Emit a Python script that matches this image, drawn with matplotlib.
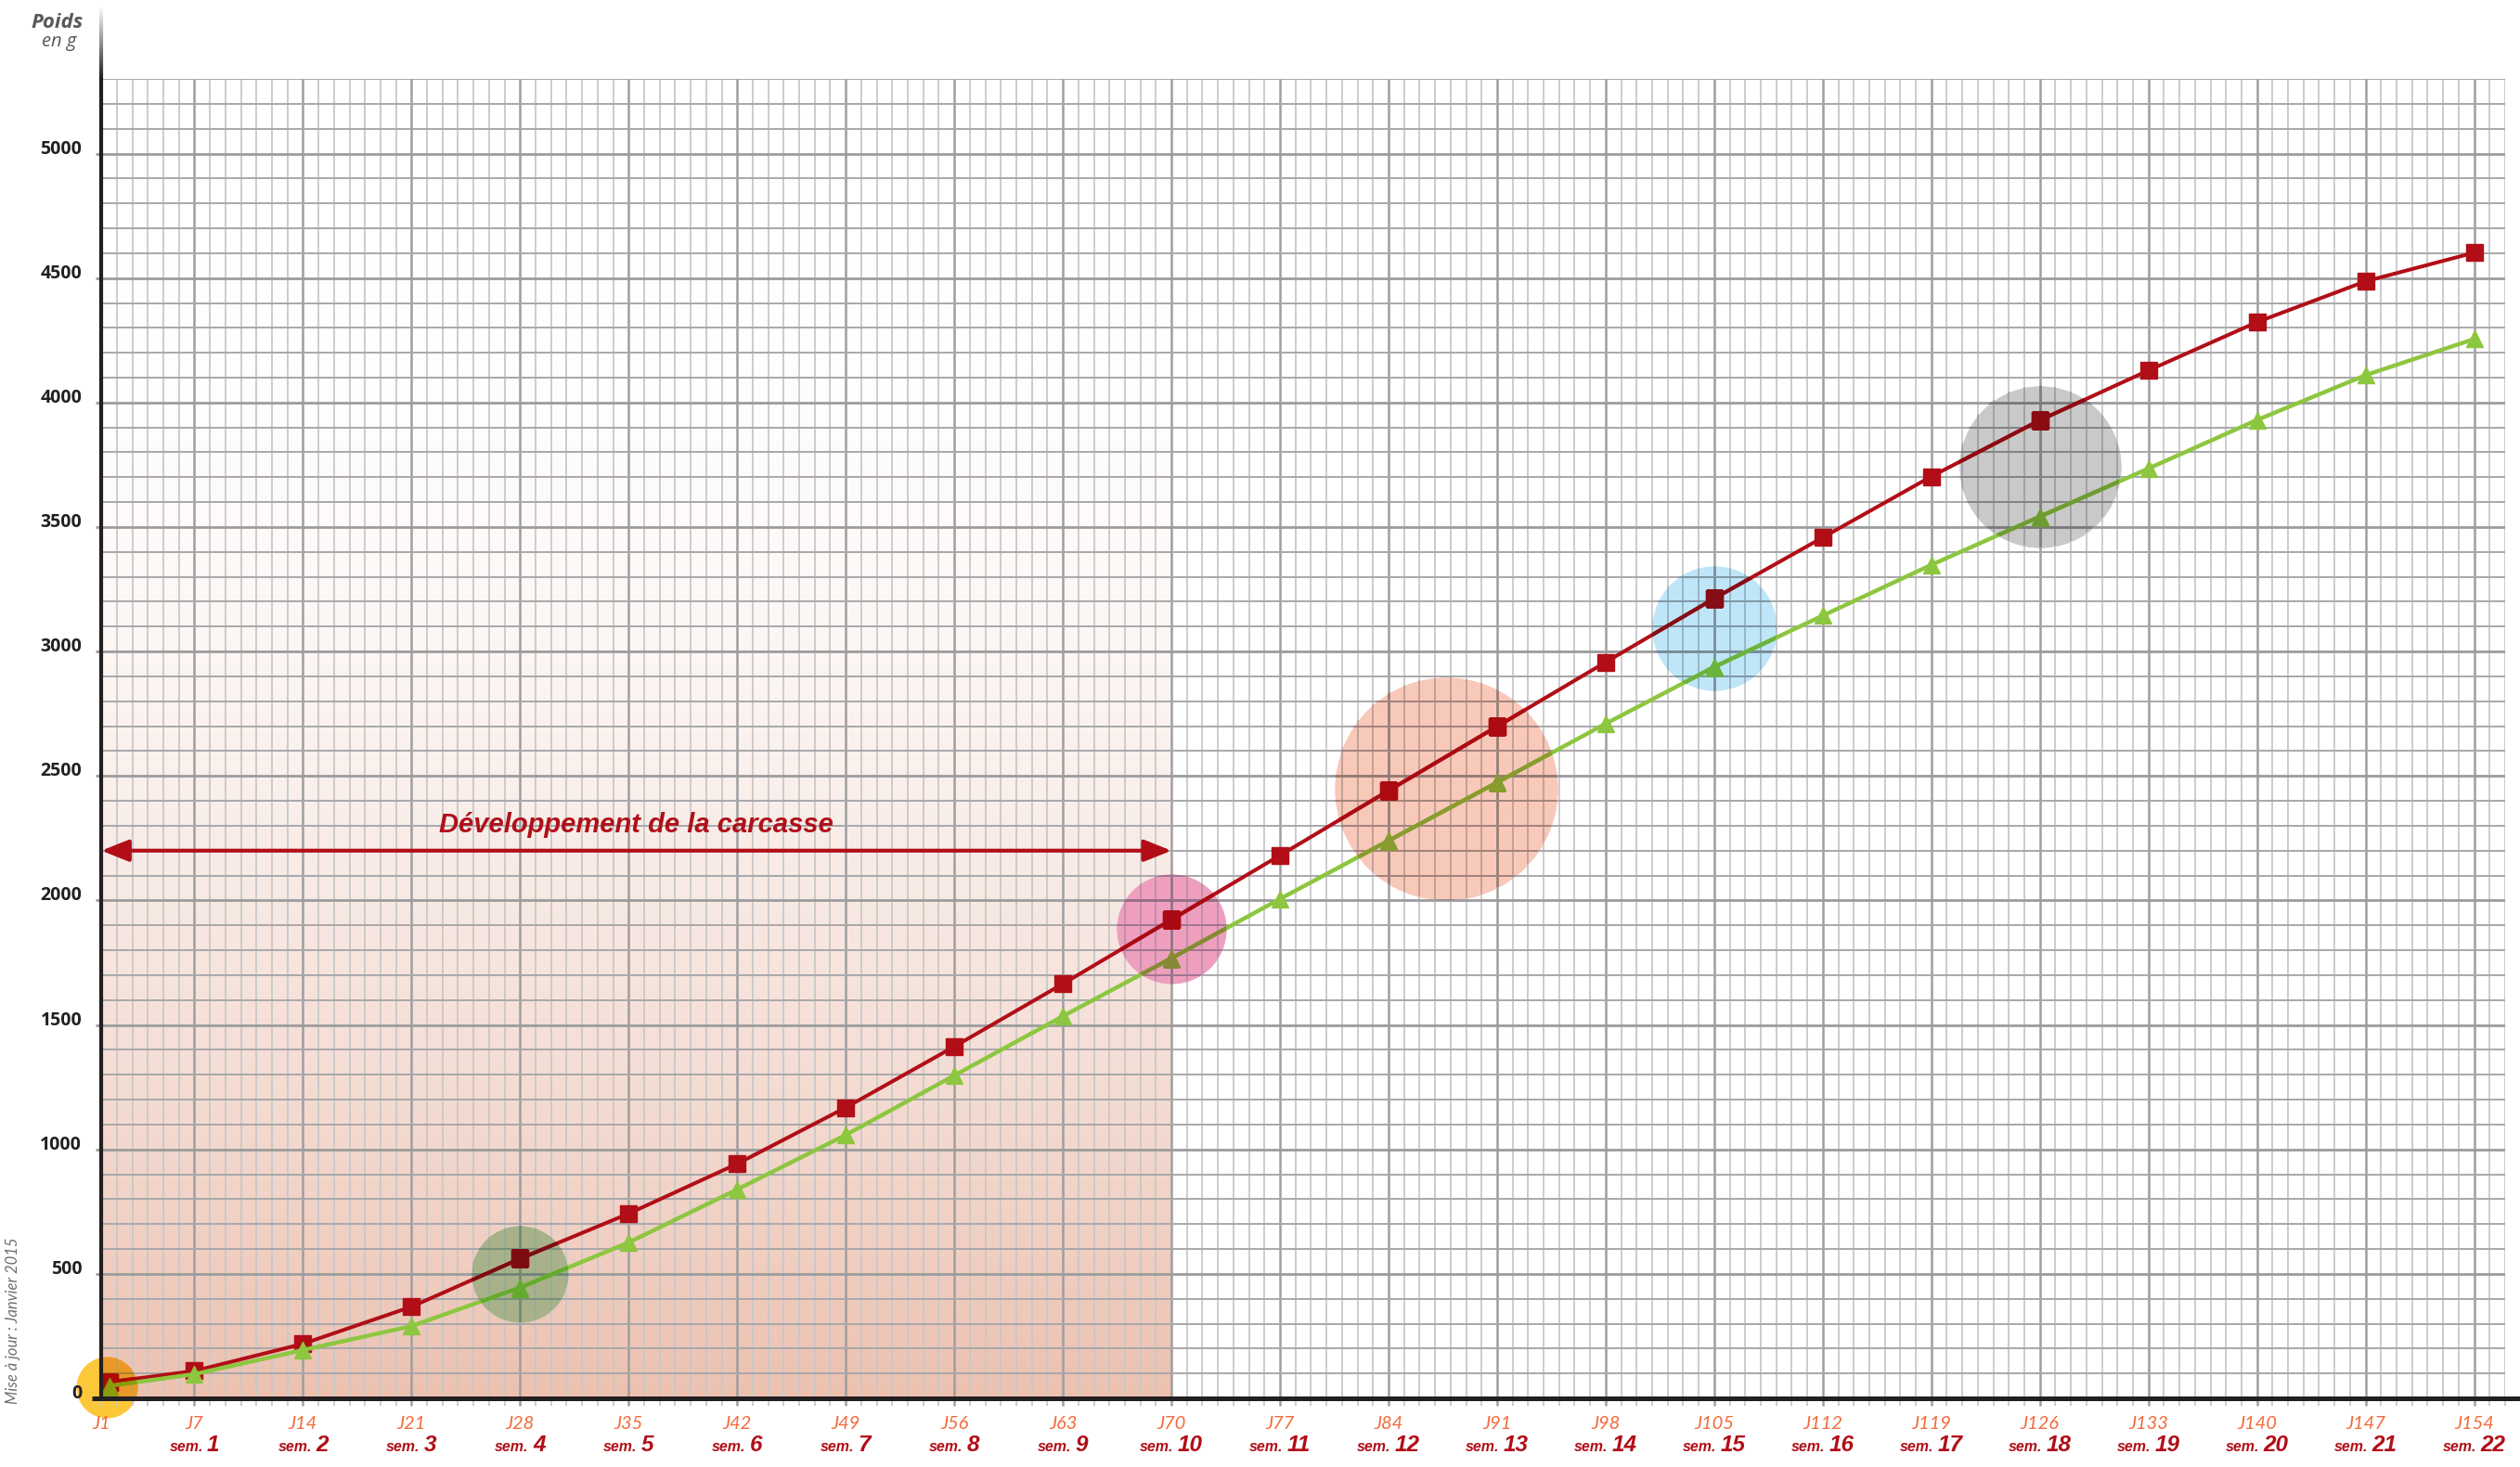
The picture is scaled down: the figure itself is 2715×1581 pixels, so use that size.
import numpy as np
import matplotlib
matplotlib.use("Agg")
import matplotlib.pyplot as plt
import matplotlib.colors as mcolors
import matplotlib.transforms as mtransforms
import matplotlib.patches as mpatches
from matplotlib.ticker import MultipleLocator, FixedLocator
from matplotlib.offsetbox import TextArea, HPacker, AnnotationBbox
from matplotlib.collections import LineCollection

# ---------------- data ----------------
days = [1.5, 7, 14, 21, 28, 35, 42, 49, 56, 63, 70, 77, 84, 91, 98, 105,
        112, 119, 126, 133, 140, 147, 154]
weight_red = [65, 110, 219, 368, 561, 742, 942, 1168, 1413, 1665, 1923, 2181,
              2441, 2699, 2957, 3213, 3458, 3703, 3929, 4129, 4323, 4487, 4602]
weight_green = [50, 97, 194, 290, 445, 626, 839, 1058, 1297, 1535, 1768, 2006,
                2240, 2474, 2710, 2938, 3144, 3348, 3542, 3735, 3930, 4110, 4255]

xtick_days = [1, 7, 14, 21, 28, 35, 42, 49, 56, 63, 70, 77, 84, 91, 98, 105,
              112, 119, 126, 133, 140, 147, 154]
xtick_labels = ["J1", "J7", "J14", "J21", "J28", "J35", "J42", "J49", "J56",
                "J63", "J70", "J77", "J84", "J91", "J98", "J105", "J112",
                "J119", "J126", "J133", "J140", "J147", "J154"]
week_days = xtick_days[1:]
week_numbers = [str(i) for i in range(1, 23)]

ytick_values = [0, 500, 1000, 1500, 2000, 2500, 3000, 3500, 4000, 4500, 5000]

# highlight circles (centre day, centre weight, radius in px, tint)
hl_day = [1.35, 28, 70, 87.7, 105, 126]
hl_val = [45, 500, 1885, 2450, 3092, 3744]
hl_radius_px = [33, 52, 59, 120, 67, 87]
hl_tint = ["#fcc83a", "#b4dcb8", "#f5b0d8", "#f8c8b9", "#bfe6f8", "#c9c9c9"]

phase_start, phase_end, phase_level = 1, 70, 2200
phase_label = "Développement de la carcasse"

# ---------------- figure ----------------
W, H = 2715, 1581
fig = plt.figure(figsize=(W / 100, H / 100), dpi=100)
ax = fig.add_axes([109.2 / W, 74 / H, 2589.8 / W, 1422.5 / H])

RED = "#b10e17"
GREEN = "#8dc63f"
DARK = "#231f20"
GRID_VMAJ, GRID_VMIN = "#9e9ea0", "#c8c8ca"
GRID_HMAJ, GRID_HMIN = "#9c9c9e", "#a8a8aa"

XMAX, YMAX = 156, 5302

# shaded gradient zone
base = np.array([236, 193, 176]) / 255.0


def shade_color(v):
    f = np.clip(1 - v / 4600.0, 0, 1) ** 1.8
    return np.ones(3) * (1 - f) + base * f


hs = np.linspace(0, 5300, 500)
grad = np.array([shade_color(v) for v in hs])
ax.imshow(grad[:, None, :], origin="lower", extent=[phase_start, phase_end, 0, 5300],
          aspect="auto", zorder=0, interpolation="bilinear")

ax.set_xlim(1, XMAX)
ax.set_ylim(0, YMAX)

# grid
ax.set_axisbelow(True)
ax.xaxis.set_major_locator(FixedLocator(list(range(7, 155, 7))))
ax.xaxis.set_minor_locator(MultipleLocator(1))
ax.yaxis.set_major_locator(FixedLocator(ytick_values))
ax.yaxis.set_minor_locator(MultipleLocator(100))
ax.grid(which="major", axis="x", color=GRID_VMAJ, lw=1.8)
ax.grid(which="minor", axis="x", color=GRID_VMIN, lw=1.3)
ax.grid(which="major", axis="y", color=GRID_HMAJ, lw=2.0)
ax.grid(which="minor", axis="y", color=GRID_HMIN, lw=1.4)
ax.tick_params(axis="x", which="major", direction="out", length=6, width=1.8,
               color=GRID_VMAJ, labelbottom=False)
ax.tick_params(axis="x", which="minor", direction="out", length=6, width=1.3,
               color=GRID_VMIN)
ax.tick_params(axis="y", which="major", direction="out", length=4.5, width=2,
               color=GRID_HMAJ, labelleft=False)
ax.tick_params(axis="y", which="minor", length=0)
for s in ax.spines.values():
    s.set_visible(False)


def mult(c1, c2):
    a = np.array(mcolors.to_rgb(c1))
    b = np.array(mcolors.to_rgb(c2))
    return tuple(a * b)


# data series
red_kw = dict(lw=2.9, marker="s", ms=12.5, solid_joinstyle="round")
green_kw = dict(lw=3.2, marker="^", ms=13, solid_joinstyle="round")
ax.plot(days, weight_red, color=RED, zorder=3, **red_kw)
ax.plot(days, weight_green, color=GREEN, zorder=4, **green_kw)

# highlight circles: emulate a "multiply" blend
fig.canvas.draw()
sizes = [(2 * r * 0.72) ** 2 for r in hl_radius_px]
vmaj = list(range(7, 155, 7))
vmin = [d for d in range(1, XMAX + 1) if d % 7 != 0]
hmaj = ytick_values
hmin = [v for v in range(100, 5301, 100) if v % 500 != 0]
for d, v, r, tint, s in zip(hl_day, hl_val, hl_radius_px, hl_tint, sizes):
    inside_shade = d <= phase_end
    bg = shade_color(v) if inside_shade else np.ones(3)
    fill = mult(tint, bg)
    ax.scatter([d], [v], s=[s], color=[mcolors.to_rgba(tint)], linewidths=0,
               zorder=0.2, clip_on=False)
    ax.scatter([d], [v], s=[s], color=[fill], linewidths=0, zorder=0.3)
    cx, cy = ax.transData.transform((d, v))
    clip = mpatches.Circle((cx, cy), r, transform=mtransforms.IdentityTransform())
    arts = []
    arts.append(ax.vlines(vmaj, 0, 5300, colors=[mult(GRID_VMAJ, tint)], lw=1.8, zorder=0.6))
    arts.append(ax.vlines(vmin, 0, 5300, colors=[mult(GRID_VMIN, tint)], lw=1.3, zorder=0.6))
    arts.append(ax.hlines(hmaj, 1, XMAX, colors=[mult(GRID_HMAJ, tint)], lw=2.0, zorder=0.6))
    arts.append(ax.hlines(hmin, 1, XMAX, colors=[mult(GRID_HMIN, tint)], lw=1.4, zorder=0.6))
    arts += ax.plot(days, weight_red, color=mult(RED, tint), zorder=4.1, **red_kw)
    arts += ax.plot(days, weight_green, color=mult(GREEN, tint), zorder=4.2, **green_kw)
    for a in arts:
        a.set_clip_path(clip)

ax.set_xlim(1, XMAX)
ax.set_ylim(0, YMAX)

# axis lines
blend = mtransforms.blended_transform_factory(ax.transAxes, ax.transData)
ax.plot([-0.004, 1.0062], [0, 0], transform=blend, color=DARK, lw=3.6,
        clip_on=False, zorder=7, solid_capstyle="butt")
ax.plot([1, 1], [0, 5300], color=DARK, lw=3.0, clip_on=False, zorder=7,
        solid_capstyle="butt")
n = 40
ys = np.linspace(5300, 5594, n + 1)
segs = [[(1, ys[i]), (1, ys[i + 1])] for i in range(n)]
c0 = np.array(mcolors.to_rgb(DARK))
fcols = [tuple(c0 + (1 - c0) * (i / (n - 1))) for i in range(n)]
ax.add_collection(LineCollection(segs, colors=fcols, linewidths=3.0,
                                 clip_on=False, zorder=7))

# y labels
for v in ytick_values:
    ax.annotate(str(v), xy=(1, v), xytext=(-21, 5), textcoords="offset pixels",
                ha="right", va="center", fontsize=14, fontweight="bold",
                family="Open Sans", color=DARK, annotation_clip=False)

# x labels
for d, lab in zip(xtick_days, xtick_labels):
    ax.annotate(lab, xy=(d, 0), xytext=(0, -27), textcoords="offset pixels",
                ha="center", va="center", fontsize=14.5, family="Lato",
                style="italic", weight="normal", color="#f26b3a",
                annotation_clip=False)

narrow = ["Liberation Sans", "DejaVu Sans"]
for d, num in zip(week_days, week_numbers):
    t1 = TextArea("sem.", textprops=dict(fontsize=11.5, weight="bold", style="italic",
                                         family=narrow, color=RED))
    t2 = TextArea(num, textprops=dict(fontsize=17.5, weight="bold", style="italic",
                                      family=narrow, color=RED))
    pack = HPacker(children=[t1, t2], align="baseline", pad=0, sep=3)
    ab = AnnotationBbox(pack, (d, 0), xybox=(0, -51), xycoords="data",
                        boxcoords="offset pixels", box_alignment=(0.5, 0.5),
                        frameon=False, annotation_clip=False, zorder=8)
    ax.add_artist(ab)

# phase arrow
ax.annotate("", xy=(phase_end, phase_level), xytext=(phase_start, phase_level),
            arrowprops=dict(arrowstyle="<|-|>,head_length=1.0,head_width=0.4",
                            color=RED, lw=3, shrinkA=0, shrinkB=0,
                            mutation_scale=18), zorder=6)
ax.text(35.5, 2302, phase_label, ha="center", va="center", color="#b0101a",
        fontsize=21, weight="bold", style="italic", family=narrow, zorder=6)

# titles / side note
fig.text(90 / W, 1 - 24 / H, "Poids", ha="right", va="center", fontsize=16,
         weight="bold", style="italic", color="#58595b", family="Open Sans")
fig.text(82 / W, 1 - 45 / H, "en g", ha="right", va="center", fontsize=14.5,
         style="italic", color="#58595b", family="Open Sans")
fig.text(14 / W, 1 - 1423 / H, "Mise à jour : Janvier 2015", rotation=90,
         ha="center", va="center", fontsize=12, style="italic",
         color="#6d6e71", family="Lato")

fig.savefig("out.png", dpi=100)
